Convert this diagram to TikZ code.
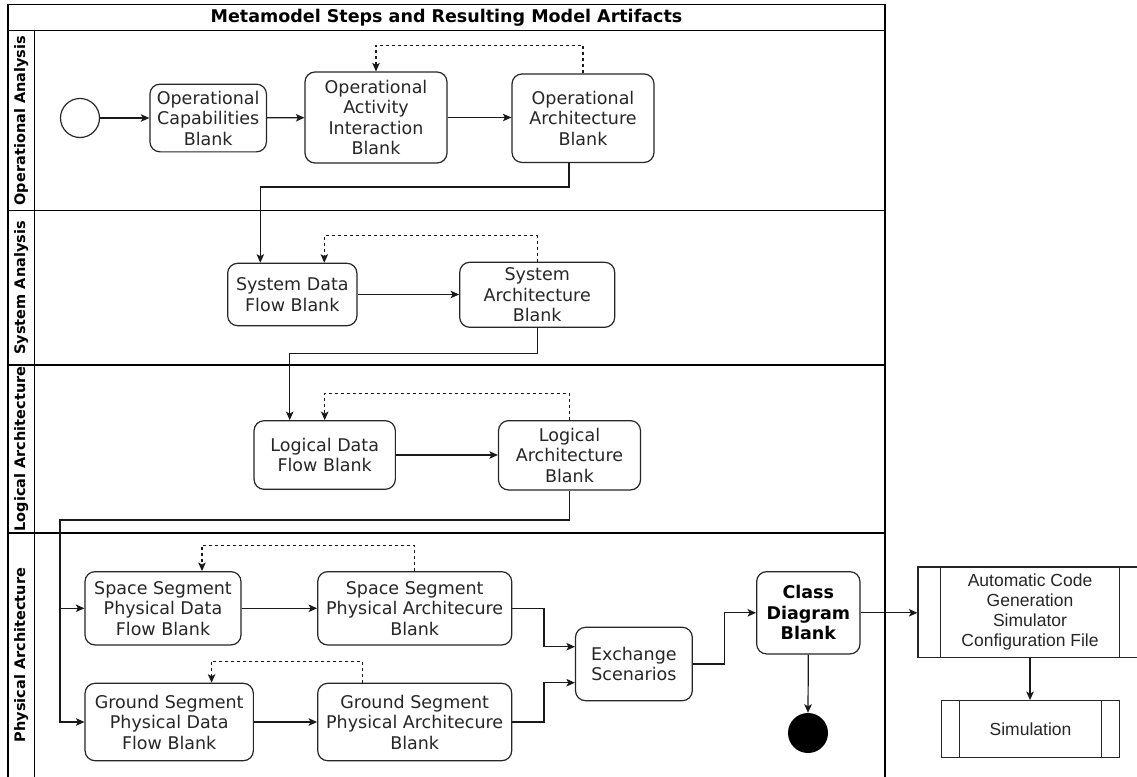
\documentclass[tikz,border=0pt]{standalone}
\usepackage{fontspec}
\setmainfont{DejaVu Sans}
\newfontfamily\arialfont{Liberation Sans}
\usetikzlibrary{arrows.meta}

\newcommand{\boxfont}{\fontsize{17.5}{20.5}\selectfont}
\newcommand{\procfont}{\arialfont\fontsize{17.5}{20}\selectfont}
\newcommand{\lanefont}{\bfseries\fontsize{14.5}{16}\selectfont}
\newcommand{\titlefont}{\bfseries\fontsize{17.5}{20}\selectfont}

\tikzset{
  pool/.style={line width=1.4pt, draw=black},
  actbox/.style={draw=black!85, line width=1.2pt, rounded corners=10pt, align=center,
    inner sep=0pt, font=\boxfont, text=black!85},
  procbox/.style={draw=black!85, line width=1.2pt, align=center, inner sep=0pt,
    font=\procfont, text=black!85},
  flow/.style={draw=black!90, line width=1.2pt, -{Stealth[length=8.5pt,width=7.5pt,inset=2pt]}},
  loopback/.style={flow, dash pattern=on 3pt off 3pt},
  lanelabel/.style={rotate=90, font=\lanefont, inner sep=0pt},
}

\begin{document}
\begin{tikzpicture}[x=1pt, y=-1pt]
\useasboundingbox (0,0) rectangle (1137,776);
\clip (0,0) rectangle (1137,776);
\fill[white] (0,0) rectangle (1137,776);

% swimlane pool
\draw[pool] (8,4.5) rectangle (885,800);
\draw[pool] (8,30.5) -- (885,30.5);
\draw[pool] (8,210.7) -- (885,210.7);
\draw[pool] (8,365) -- (885,365);
\draw[pool] (8,533) -- (885,533);
\draw[pool] (34.5,30.5) -- (34.5,800);

\node[font=\titlefont] (title) at (446.5,17.5) {Metamodel Steps and Resulting Model Artifacts};
\node[lanelabel] (laneOA) at (21.3,120.6) {Operational Analysis};
\node[lanelabel] (laneSA) at (21.3,287.9) {System Analysis};
\node[lanelabel] (laneLA) at (21.3,449) {Logical Architecture};
\node[lanelabel] (lanePA) at (21.3,655) {Physical Architecture};

% operational analysis
\node[circle, draw=black!85, line width=1.2pt, minimum size=39pt, inner sep=0pt] (start) at (80,118) {};
\node[actbox, minimum width=116.5pt, minimum height=67.7pt] (OC) at (208.2,118) {Operational\\Capabilities\\Blank};
\node[actbox, minimum width=142pt, minimum height=91pt] (OAI) at (376,117.5) {Operational\\Activity\\Interaction\\Blank};
\node[actbox, minimum width=142pt, minimum height=88.5pt] (OA) at (583,118.2) {Operational\\Architecture\\Blank};

% system analysis
\node[actbox, minimum width=129.3pt, minimum height=62.4pt] (SDF) at (292.3,294.5) {System Data\\Flow Blank};
\node[actbox, minimum width=155pt, minimum height=65pt] (SA) at (537.2,294.8) {System\\Architecture\\Blank};

% logical architecture
\node[actbox, minimum width=141.3pt, minimum height=68.6pt] (LDF) at (324.7,455) {Logical Data\\Flow Blank};
\node[actbox, minimum width=142pt, minimum height=69.3pt] (LA) at (569.5,455.3) {Logical\\Architecture\\Blank};

% physical architecture
\node[actbox, minimum width=156pt, minimum height=73.3pt] (SPDF) at (163,608.3) {Space Segment\\Physical Data\\Flow Blank};
\node[actbox, minimum width=194pt, minimum height=73.3pt] (SPA) at (414.7,608.3) {Space Segment\\Physical Architecure\\Blank};
\node[actbox, minimum width=168.3pt, minimum height=77.4pt] (GPDF) at (169.2,722) {Ground Segment\\Physical Data\\Flow Blank};
\node[actbox, minimum width=194pt, minimum height=77.4pt] (GPA) at (414.7,722) {Ground Segment\\Physical Architecure\\Blank};
\node[actbox, minimum width=116.8pt, minimum height=73.4pt] (EX) at (633.9,664) {Exchange\\Scenarios};
\node[actbox, minimum width=103.3pt, minimum height=82.3pt, font=\boxfont\bfseries, text=black] (CD) at (808.3,612.8) {Class\\Diagram\\Blank};
\node[circle, fill=black, minimum size=40pt, inner sep=0pt] (final) at (808,733) {};

% outputs outside the pool
\node[procbox, minimum width=224pt, minimum height=90.7pt] (AUTO) at (1030,612.3) {Automatic Code\\Generation\\Simulator\\Configuration File};
\node[procbox, minimum width=177.6pt, minimum height=56.6pt] (SIM) at (1030.5,729) {Simulation};
\draw[draw=black!85, line width=1.2pt]
  ([xshift=23pt]AUTO.north west) -- ([xshift=23pt]AUTO.south west)
  ([xshift=-23pt]AUTO.north east) -- ([xshift=-23pt]AUTO.south east)
  ([xshift=18.5pt]SIM.north west) -- ([xshift=18.5pt]SIM.south west)
  ([xshift=-18.5pt]SIM.north east) -- ([xshift=-18.5pt]SIM.south east);

% main flow
\draw[flow] (start) -- (OC);
\draw[flow] (OC) -- (OAI);
\draw[flow] (OAI.east) -- (OAI.east -| OA.west);
\draw[loopback] (OA.north) -- ++(0,-28) -| (OAI.north);
\draw[flow] ([xshift=-14pt]OA.south) -- ++(0,24) -| ([xshift=-32pt]SDF.north);

\draw[flow] (SDF.east) -- (SDF.east -| SA.west);
\draw[loopback] (SA.north) -- ++(0,-26) -| ([xshift=32pt]SDF.north);
\draw[flow] (SA.south) -- ++(0,25.4) -| ([xshift=-35pt]LDF.north);

\draw[flow] (LDF.east) -- (LDF.east -| LA.west);
\draw[loopback] (LA.north) -- ++(0,-26.4) -| (LDF.north);

\coordinate (bus) at (60,520);
\draw[flow] (LA.south) |- (bus) |- (GPDF.west);
\draw[flow] (bus) |- (SPDF.west);

\draw[flow] (SPDF) -- (SPA);
\draw[flow] (GPDF.east) -- (GPDF.east -| GPA.west);
\draw[loopback] (SPA.north) -- ++(0,-25.7) -| ([xshift=39pt]SPDF.north);
\draw[loopback] ([xshift=-52pt]GPA.north) -- ++(0,-21.6) -| ([xshift=42.4pt]GPDF.north);

\draw[flow] (SPA.east) -- ++(31.7,0) |- ([yshift=17.3pt]EX.west);
\draw[flow] (GPA.east) -- ++(31.7,0) |- ([yshift=-18.7pt]EX.west);
\draw[flow] (EX.east) -- ++(31.7,0) |- (CD.west);
\draw[flow] (CD.east) -- (CD.east -| AUTO.west);
\draw[flow] (CD.south) -- (final.north);
\draw[flow] (AUTO.south) -- (AUTO.south |- SIM.north);

\end{tikzpicture}
\end{document}
